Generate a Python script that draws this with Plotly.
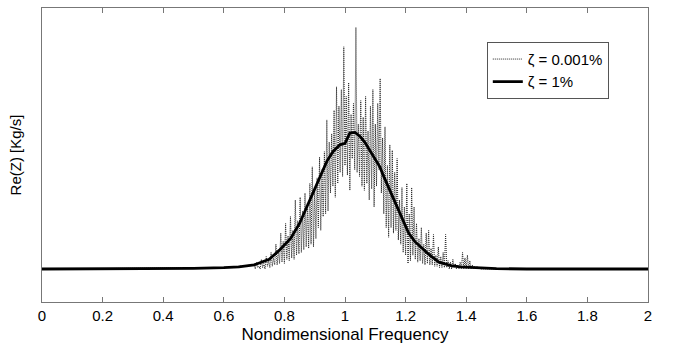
import numpy as np
import plotly.graph_objects as go

# Smooth response (zeta = 1%)
smooth_x = [0, 0.1, 0.2, 0.3, 0.4, 0.5, 0.6, 0.65, 0.7, 0.75, 0.785, 0.82, 0.85, 0.88,
            0.917, 0.94, 0.96, 0.983, 1.0, 1.016, 1.033, 1.05, 1.065, 1.082, 1.1, 1.115,
            1.13, 1.148, 1.165, 1.18, 1.195, 1.21, 1.23, 1.25, 1.28, 1.31, 1.35, 1.38,
            1.45, 1.5, 1.6, 1.8, 2.0]
smooth_y = [0, 0, 0, 0.005, 0.005, 0.005, 0.01, 0.015, 0.03, 0.07, 0.14, 0.22, 0.33, 0.48,
            0.67, 0.78, 0.85, 0.90, 0.91, 0.985, 0.99, 0.96, 0.92, 0.86, 0.80, 0.74,
            0.66, 0.57, 0.48, 0.40, 0.33, 0.26, 0.20, 0.16, 0.10, 0.05, 0.025, 0.015,
            0.005, 0.003, 0.0, 0.0, 0.0]

# Noisy response (zeta = 0.001%), sampled on a frequency grid 0.700 .. 1.448 step 0.004
noisy_start, noisy_step = 0.70, 0.004
noisy_vals = [
    0.03, 0.00, 0.05, 0.01, 0.02, 0.00, 0.07, 0.01, 0.04, 0.00,   # 0.700
    0.09, 0.02, 0.06, 0.01, 0.12, 0.02, 0.08, 0.03, 0.18, 0.03,   # 0.740
    0.14, 0.04, 0.26, 0.05, 0.20, 0.04, 0.33, 0.07, 0.24, 0.06,   # 0.780
    0.38, 0.08, 0.28, 0.07, 0.50, 0.10, 0.35, 0.11, 0.52, 0.12,   # 0.820
    0.42, 0.14, 0.55, 0.16, 0.48, 0.15, 0.62, 0.18, 0.74, 0.16,   # 0.860
    0.58, 0.22, 0.66, 0.30, 0.81, 0.28, 0.72, 0.38, 0.85, 0.40,   # 0.900
    1.08, 0.42, 0.92, 0.55, 0.98, 0.60, 1.15, 0.52, 1.32, 0.62,   # 0.940
    1.18, 0.70, 1.30, 0.67, 1.61, 0.75, 1.25, 0.68, 1.35, 0.57,   # 0.980
    1.12, 0.80, 1.20, 0.72, 1.75, 0.70, 1.05, 0.67, 1.22, 0.60,   # 1.020
    1.10, 0.57, 1.25, 0.62, 1.00, 0.50, 1.18, 0.58, 1.30, 0.45,   # 1.060
    1.05, 0.60, 1.20, 0.72, 1.38, 0.55, 0.95, 0.40, 1.03, 0.30,   # 1.100
    0.75, 0.23, 0.90, 0.30, 0.86, 0.26, 0.70, 0.28, 0.80, 0.21,   # 1.140
    0.50, 0.18, 0.59, 0.12, 0.45, 0.10, 0.62, 0.04, 0.40, 0.06,   # 1.180
    0.59, 0.10, 0.45, 0.07, 0.33, 0.05, 0.22, 0.06, 0.30, 0.04,   # 1.220
    0.18, 0.03, 0.26, 0.04, 0.28, 0.03, 0.15, 0.03, 0.25, 0.02,   # 1.260
    0.10, 0.02, 0.16, 0.01, 0.09, 0.01, 0.12, 0.01, 0.25, 0.01,   # 1.300
    0.06, 0.00, 0.05, 0.00, 0.07, 0.01, 0.04, 0.00, 0.03, 0.00,   # 1.340
    0.05, 0.00, 0.12, 0.00, 0.08, 0.00, 0.10, 0.00, 0.06, 0.00,   # 1.380
    0.03, 0.00, 0.02, 0.00, 0.02, 0.00, 0.01, 0.00,               # 1.420
]
noisy_x = [0.0, 0.6] + [noisy_start + noisy_step * i for i in range(len(noisy_vals))] + [2.0]
noisy_y = [0.0, 0.01] + noisy_vals + [0.0]

x_ticks = [0, 0.2, 0.4, 0.6, 0.8, 1, 1.2, 1.4, 1.6, 1.8, 2]
x_tick_text = ["0", "0.2", "0.4", "0.6", "0.8", "1", "1.2", "1.4", "1.6", "1.8", "2"]

fig = go.Figure()
fig.add_trace(go.Scatter(x=noisy_x, y=noisy_y, mode="lines", name="ζ = 0.001%",
                         line=dict(color="#262626", width=1, dash="1px,1px")))
fig.add_trace(go.Scatter(x=smooth_x, y=smooth_y, mode="lines", name="ζ = 1%",
                         line=dict(color="black", width=2.8)))

fig.update_layout(
    width=676, height=344,
    margin=dict(l=42, r=28, t=8, b=42),
    plot_bgcolor="white", paper_bgcolor="white",
    font=dict(family="Liberation Sans, Arial, sans-serif", size=15, color="black"),
    showlegend=True,
    legend=dict(x=0.734, y=0.885, xanchor="left", yanchor="top",
                bordercolor="#555", borderwidth=1, bgcolor="white",
                font=dict(size=15), itemwidth=30, tracegroupgap=0),
    xaxis=dict(range=[0, 2], tickvals=x_ticks, ticktext=x_tick_text,
               ticks="inside", ticklen=5, tickcolor="#777",
               showline=True, linecolor="#777", linewidth=1, mirror="ticks",
               showgrid=False, zeroline=False, automargin=False,
               title=dict(text="Nondimensional Frequency", font=dict(size=17))),
    yaxis=dict(range=[-0.239, 1.891], showticklabels=False, ticks="",
               showline=True, linecolor="#777", linewidth=1, mirror=True,
               showgrid=False, zeroline=False, automargin=False,
               title=dict(text="Re(Z) [Kg/s]", font=dict(size=15))),
)

fig.write_html("out.html")
